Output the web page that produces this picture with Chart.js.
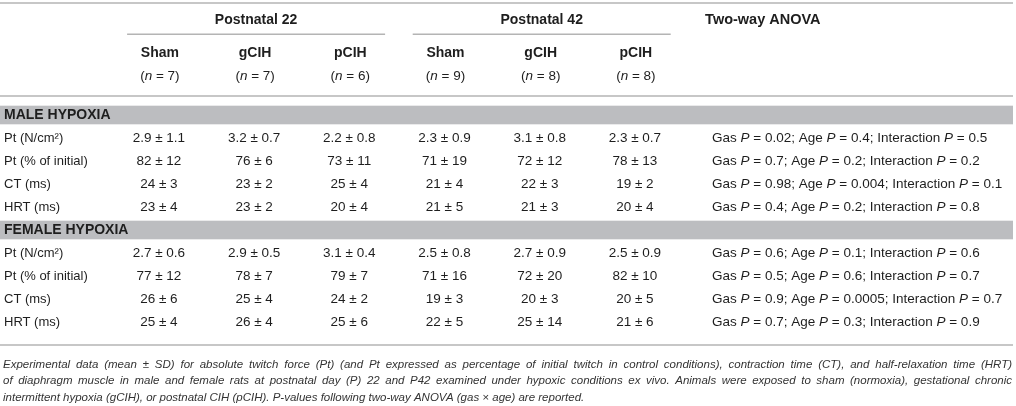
<!DOCTYPE html>
<html>
<head>
<meta charset="utf-8">
<script src="https://cdn.jsdelivr.net/npm/chart.js@4.4.1/dist/chart.umd.min.js"></script>
<style>
html,body{margin:0;padding:0;background:#fff;}
#wrap{width:1016px;height:406px;position:relative;}
</style>
</head>
<body>
<div id="wrap"><canvas id="c"></canvas></div>
<script>
// ---------- DATA ----------
const groups = ['Postnatal 22', 'Postnatal 42'];
const treatments = ['Sham', 'gCIH', 'pCIH', 'Sham', 'gCIH', 'pCIH'];
const sampleSizes = [7, 7, 6, 9, 8, 8];
const anovaTitle = 'Two-way ANOVA';
const sections = ['MALE HYPOXIA', 'FEMALE HYPOXIA'];
const measures = ['Pt (N/cm²)', 'Pt (% of initial)', 'CT (ms)', 'HRT (ms)'];
const measureDecimals = [1, 0, 0, 0];

// rows = measures, columns = treatments
const maleMean = [
  [2.9, 3.2, 2.2, 2.3, 3.1, 2.3],
  [82, 76, 73, 71, 72, 78],
  [24, 23, 25, 21, 22, 19],
  [23, 23, 20, 21, 21, 20]
];
const maleSD = [
  [1.1, 0.7, 0.8, 0.9, 0.8, 0.7],
  [12, 6, 11, 19, 12, 13],
  [3, 2, 4, 4, 3, 2],
  [4, 2, 4, 5, 3, 4]
];
const femaleMean = [
  [2.7, 2.9, 3.1, 2.5, 2.7, 2.5],
  [77, 78, 79, 71, 72, 82],
  [26, 25, 24, 19, 20, 20],
  [25, 26, 25, 22, 25, 21]
];
const femaleSD = [
  [0.6, 0.5, 0.4, 0.8, 0.9, 0.9],
  [12, 7, 7, 16, 20, 10],
  [6, 4, 2, 3, 3, 5],
  [4, 4, 6, 5, 14, 6]
];
// [male, female] per measure
const gasP = [[0.02, 0.7, 0.98, 0.4], [0.6, 0.5, 0.9, 0.7]];
const ageP = [[0.4, 0.2, 0.004, 0.2], [0.1, 0.6, 0.0005, 0.3]];
const interactionP = [[0.5, 0.2, 0.1, 0.8], [0.6, 0.7, 0.7, 0.9]];

const captionLines = [
  'Experimental data (mean ± SD) for absolute twitch force (Pt) (and Pt expressed as percentage of initial twitch in control conditions), contraction time (CT), and half-relaxation time (HRT)',
  'of diaphragm muscle in male and female rats at postnatal day (P) 22 and P42 examined under hypoxic conditions ex vivo. Animals were exposed to sham (normoxia), gestational chronic',
  'intermittent hypoxia (gCIH), or postnatal CIH (pCIH). P-values following two-way ANOVA (gas × age) are reported.'
];

// ---------- BUILD ----------
const means = [maleMean, femaleMean];
const sds = [maleSD, femaleSD];
const rowLabels = [];   // shown text
const rowKeys = [];     // unique category keys
const sectionRows = [];
sections.forEach(s => {
  sectionRows.push(rowLabels.length);
  rowLabels.push(s); rowKeys.push(s);
  measures.forEach(m => { rowLabels.push(m); rowKeys.push(s + ' | ' + m); });
});
const colKeys = treatments.map((t, j) => groups[Math.floor(j / 3)] + ' | ' + t).concat([anovaTitle]);

const FAMILY = "'Liberation Sans', Arial, Helvetica, sans-serif";
const TEXT = '#1e1e1e';
const RULE = '#b4b4b4';
const BAND = '#bcbdc0';
const REG = 13, CELL = 13.5, BOLD = 14, CAP = 11.5;

const datasets = treatments.map((t, j) => ({
  label: colKeys[j],
  data: sections.flatMap((s, si) => measures.map((m, mi) => ({
    x: colKeys[j],
    y: s + ' | ' + m,
    text: means[si][mi][j].toFixed(measureDecimals[mi]) + ' ± ' + sds[si][mi][j].toFixed(measureDecimals[mi])
  }))),
  pointRadius: 0
}));
datasets.push({
  label: anovaTitle,
  anova: true,
  data: sections.flatMap((s, si) => measures.map((m, mi) => ({
    x: anovaTitle,
    y: s + ' | ' + m,
    parts: [
      ['Gas ', false], ['P', true], [' = ' + gasP[si][mi] + '; Age ', false], ['P', true],
      [' = ' + ageP[si][mi] + '; Interaction ', false], ['P', true], [' = ' + interactionP[si][mi], false]
    ]
  }))),
  pointRadius: 0
});

function font(size, weight, style) {
  return (style || 'normal') + ' ' + (weight || 'normal') + ' ' + size + 'px ' + FAMILY;
}
function drawRich(ctx, parts, x, y, align, size, weight) {
  let total = 0;
  const widths = parts.map(([t, it]) => { ctx.font = font(size, weight, it ? 'italic' : 'normal'); const w = ctx.measureText(t).width; total += w; return w; });
  let cx = align === 'center' ? x - total / 2 : x;
  ctx.textAlign = 'left';
  parts.forEach(([t, it], i) => { ctx.font = font(size, weight, it ? 'italic' : 'normal'); ctx.fillText(t, cx, y); cx += widths[i]; });
}
function hline(ctx, x1, x2, y) {
  ctx.beginPath(); ctx.moveTo(x1, y); ctx.lineTo(x2, y); ctx.stroke();
}

const tablePlugin = {
  id: 'tablePlugin',
  beforeDraw(chart) {
    const {ctx, scales: {y}} = chart;
    ctx.save();
    ctx.fillStyle = '#fff';
    ctx.fillRect(0, 0, chart.width, chart.height);
    const rowH = y.getPixelForValue(1) - y.getPixelForValue(0);
    ctx.fillStyle = BAND;
    sectionRows.forEach(r => {
      const cy = y.getPixelForValue(r);
      ctx.fillRect(0, cy - rowH * 0.405, chart.width - 3, rowH * 0.81);
    });
    ctx.restore();
  },
  afterDatasetsDraw(chart) {
    const {ctx} = chart;
    ctx.save();
    ctx.fillStyle = TEXT;
    ctx.textBaseline = 'middle';
    chart.data.datasets.forEach((ds, di) => {
      const meta = chart.getDatasetMeta(di);
      meta.data.forEach((el, k) => {
        const raw = ds.data[k];
        if (ds.anova) {
          drawRich(ctx, raw.parts, el.x - 18, el.y, 'left', CELL);
        } else {
          ctx.font = font(CELL);
          ctx.textAlign = 'center';
          ctx.fillText(raw.text, el.x, el.y);
        }
      });
    });
    ctx.restore();
  },
  afterDraw(chart) {
    const {ctx, chartArea, scales: {x}} = chart;
    const top = chartArea.top, bottom = chartArea.bottom;
    const right = chart.width - 3;
    ctx.save();
    ctx.strokeStyle = RULE;
    ctx.lineWidth = 1.4;
    hline(ctx, 0, right, top - 100.5);
    hline(ctx, 0, right, top - 7.5);
    hline(ctx, 0, right, bottom + 11.5);
    ctx.fillStyle = TEXT;
    ctx.textBaseline = 'middle';
    groups.forEach((g, gi) => {
      const cx = x.getPixelForValue(gi * 3 + 1) + 2;
      ctx.font = font(BOLD, 'bold');
      ctx.textAlign = 'center';
      ctx.fillText(g, cx, top - 83.5);
      hline(ctx, cx - 129, cx + 129, top - 69.2);
    });
    ctx.font = font(BOLD + 0.5, 'bold');
    ctx.textAlign = 'left';
    ctx.fillText(anovaTitle, x.getPixelForValue(treatments.length) - 25, top - 83.5);
    treatments.forEach((t, j) => {
      const cx = x.getPixelForValue(j) + 1;
      ctx.font = font(BOLD, 'bold');
      ctx.textAlign = 'center';
      ctx.fillText(t, cx, top - 50.2);
      drawRich(ctx, [['(', false], ['n', true], [' = ' + sampleSizes[j] + ')', false]], cx, top - 26.8, 'center', CELL);
    });
    // caption
    ctx.fillStyle = '#333';
    ctx.font = font(CAP, 'normal', 'italic');
    ctx.textAlign = 'left';
    const capX = 3, capW = right - 4;
    const capY = [bottom + 31, bottom + 47.5, bottom + 64];
    let squeeze = 1;
    captionLines.forEach((line, i) => {
      const last = i === captionLines.length - 1;
      const natural = ctx.measureText(line).width;
      if (!last && natural >= capW) {
        squeeze = Math.min(squeeze, capW / natural);
        ctx.save(); ctx.translate(capX, capY[i]); ctx.scale(capW / natural, 1); ctx.fillText(line, 0, 0); ctx.restore();
      } else if (!last) {
        const words = line.split(' ');
        const ww = words.map(w => ctx.measureText(w).width);
        const gap = (capW - ww.reduce((a, b) => a + b, 0)) / (words.length - 1);
        let cx = capX;
        words.forEach((w, k) => { ctx.fillText(w, cx, capY[i]); cx += ww[k] + gap; });
      } else {
        ctx.save(); ctx.translate(capX, capY[i]); ctx.scale(squeeze, 1); ctx.fillText(line, 0, 0); ctx.restore();
      }
    });
    ctx.restore();
  }
};

new Chart(document.getElementById('c'), {
  type: 'scatter',
  data: { datasets },
  options: {
    responsive: true,
    maintainAspectRatio: false,
    animation: false,
    events: [],
    layout: { padding: { top: 103.5, bottom: 72.5, left: 4, right: 285.9 } },
    plugins: { legend: { display: false }, tooltip: { enabled: false } },
    scales: {
      x: { type: 'category', labels: colKeys, offset: false, display: false },
      y: {
        type: 'category', labels: rowKeys, offset: true,
        grid: { display: false }, border: { display: false },
        ticks: {
          crossAlign: 'far', padding: 0, autoSkip: false,
          color: TEXT,
          callback: (value, index) => rowLabels[index],
          font: ctx => sectionRows.includes(ctx.index)
            ? { family: FAMILY, size: BOLD, weight: 'bold' }
            : { family: FAMILY, size: REG, weight: 'normal' }
        },
        afterFit: s => { s.width = 154.9; }
      }
    }
  },
  plugins: [tablePlugin]
});
</script>
</body>
</html>
